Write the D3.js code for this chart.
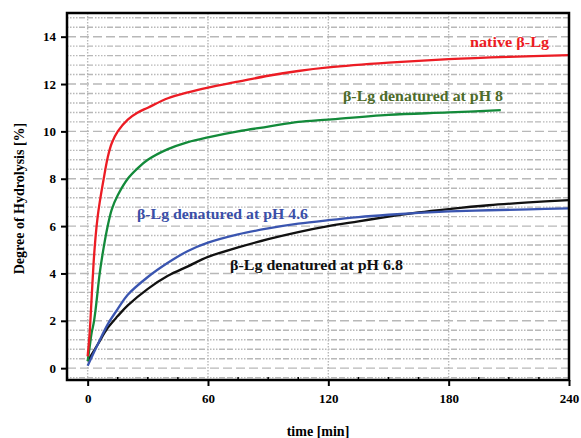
<!DOCTYPE html>
<html><head><meta charset="utf-8">
<script src="https://cdn.jsdelivr.net/npm/d3@7"></script>
<style>body{margin:0;background:#fff}</style>
</head><body><svg id="c" width="581" height="438"></svg>
<script>
// Data
const xTicks = [0, 60, 120, 180, 240];
const yTicks = [0, 2, 4, 6, 8, 10, 12, 14];
const tNative = [0,1,2,3,4,5,6,8,10,12,15,20,25,30,40,50,60,75,90,105,120,150,180,210,240];
const yNative = [0.5,1.5,3.0,4.5,5.6,6.4,7.0,8.0,8.9,9.5,10.0,10.5,10.8,11.0,11.4,11.65,11.85,12.1,12.35,12.55,12.7,12.9,13.05,13.15,13.22];
const tPH8 = [0,1,2,3,4,6,8,10,12,15,20,25,30,40,50,60,75,90,105,120,150,180,206];
const yPH8 = [0.3,0.9,1.5,1.9,2.5,4.0,5.1,6.0,6.7,7.3,8.0,8.45,8.8,9.25,9.55,9.75,10.0,10.2,10.4,10.5,10.7,10.8,10.9];
const tPH46 = [0,5,10,15,20,30,40,50,60,75,90,105,120,135,150,165,180,200,220,240];
const yPH46 = [0.1,1.0,1.85,2.5,3.1,3.85,4.45,4.95,5.3,5.65,5.9,6.1,6.25,6.38,6.48,6.56,6.62,6.67,6.71,6.75];
const tPH68 = [0,5,10,15,20,30,40,50,60,75,90,105,120,135,150,165,180,200,220,240];
const yPH68 = [0.3,1.0,1.7,2.2,2.65,3.35,3.9,4.3,4.7,5.1,5.45,5.75,6.0,6.2,6.4,6.58,6.72,6.88,7.0,7.1];
const seriesNames = ["native β-Lg","β-Lg denatured at pH 8","β-Lg denatured at pH 4.6","β-Lg denatured at pH 6.8"];
const seriesColors = ["#ec1c24","#138a3a","#3a55b0","#111111"];
const labelColors = ["#ec1c24","#4d6b2a","#3a4fa8","#111111"];

const FONT = "'Liberation Serif','Times New Roman',serif";
const svg = d3.select("#c");
const L=67, R=569, T=13, B=380;
const x = d3.scaleLinear().domain([-10.3, 240]).range([L, R]);
const y = d3.scaleLinear().domain([-0.5, 15]).range([B, T]);

// grid
const g = svg.append("g");
const minorY = d3.range(-0.4, 15, 0.4).filter(v => Math.abs(v/2 - Math.round(v/2)) > 0.01);
g.selectAll(".mn").data(minorY).join("line")
  .attr("x1", L).attr("x2", R).attr("y1", d=>y(d)).attr("y2", d=>y(d))
  .attr("stroke", "#b8b8b8").attr("stroke-width", 1.4)
  .attr("stroke-dasharray", "1.5,1.5,1.5,1.5,1.5,1.5,1.5,1.5,6,2,6,2");
g.selectAll(".mj").data(yTicks).join("line")
  .attr("x1", L).attr("x2", R).attr("y1", d=>y(d)).attr("y2", d=>y(d))
  .attr("stroke", "#b8b8b8").attr("stroke-width", 1.4).attr("stroke-dasharray", "9,4");
g.selectAll(".vx").data(xTicks.slice(0,4)).join("line")
  .attr("x1", d=>x(d)).attr("x2", d=>x(d)).attr("y1", T).attr("y2", B)
  .attr("stroke", "#b8b8b8").attr("stroke-width", 1.4).attr("stroke-dasharray", "1.5,1.5");

// curves
const tArr = [tNative, tPH8, tPH46, tPH68];
const yArr = [yNative, yPH8, yPH46, yPH68];
const line = d3.line().x(d=>x(d[0])).y(d=>y(d[1])).curve(d3.curveCatmullRom.alpha(0.5));
[3,2,1,0].forEach(i => {
  svg.append("path").datum(tArr[i].map((t,k)=>[t, yArr[i][k]]))
    .attr("d", line).attr("fill","none").attr("stroke", seriesColors[i]).attr("stroke-width", 2.3);
});

// axes
const xAxis = svg.append("g").attr("transform", `translate(0,${B})`)
  .call(d3.axisBottom(x).tickValues(xTicks).tickSize(6).tickPadding(8));
const yAxis = svg.append("g").attr("transform", `translate(${L},0)`)
  .call(d3.axisLeft(y).tickValues(yTicks).tickSize(6).tickPadding(5));
[xAxis, yAxis].forEach(a => {
  a.select(".domain").remove();
  a.selectAll("line").attr("stroke","#000").attr("stroke-width",2);
  a.selectAll("text").attr("font-size", 13).attr("fill","#000")
    .attr("font-family", FONT).attr("font-weight","bold");
});
// minor x ticks inside
svg.append("g").selectAll("line").data(d3.range(15, 240, 15).filter(v => v % 60 !== 0)).join("line")
  .attr("x1", d=>x(d)).attr("x2", d=>x(d)).attr("y1", B).attr("y2", B-3)
  .attr("stroke","#000").attr("stroke-width",1.5);

svg.append("rect").attr("x", L).attr("y", T).attr("width", R-L).attr("height", B-T)
  .attr("fill","none").attr("stroke","#000").attr("stroke-width",2.5);

// axis titles
svg.append("text").attr("x", (L+R)/2).attr("y", 436).attr("text-anchor","middle")
  .attr("font-family", FONT).attr("font-weight","bold")
  .attr("font-size", 14).text("time [min]");
svg.append("text").attr("transform", `translate(24,${(T+B)/2+2}) rotate(-90)`).attr("text-anchor","middle")
  .attr("font-family", FONT).attr("font-weight","bold")
  .attr("font-size", 14).text("Degree of Hydrolysis [%]");

// series labels
const labPos = [[470,47,79],[343,101,160],[137,219,171],[230,270,173]];
seriesNames.forEach((n,i) => {
  svg.append("text").attr("x", labPos[i][0]).attr("y", labPos[i][1])
    .attr("font-family", FONT).attr("font-weight","bold")
    .attr("font-size", 15).attr("fill", labelColors[i])
    .attr("textLength", labPos[i][2]).attr("lengthAdjust","spacingAndGlyphs").text(n);
});
</script></body></html>
